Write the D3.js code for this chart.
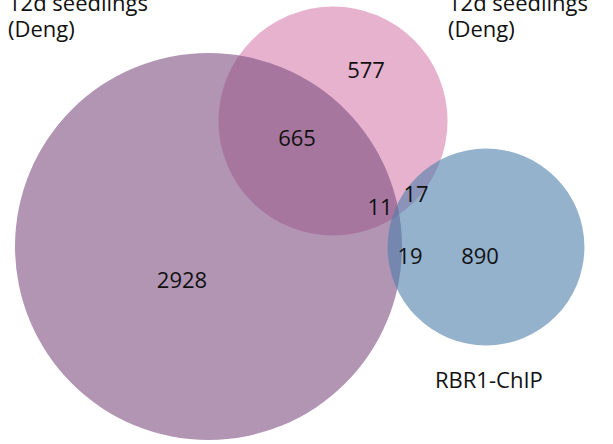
<!DOCTYPE html>
<html><head><meta charset="utf-8">
<script src="https://cdn.jsdelivr.net/npm/d3@7"></script>
<style>
html,body{margin:0;padding:0;background:#fff;}
svg{display:block;}
text{font-family:"Open Sans",sans-serif;fill:#111;}
</style></head><body>
<svg id="c" width="613" height="444"></svg>
<script>
// Data
const setNames = ["12d seedlings (Deng) A", "12d seedlings (Deng) B", "RBR1-ChIP"];
const regionLabels = ["2928", "577", "890", "665", "17", "19", "11"];
const regionValues = [2928, 577, 890, 665, 17, 19, 11];
// region membership: which sets each region belongs to
const regionSets = [[0],[1],[2],[0,1],[1,2],[0,2],[0,1,2]];

// Layout
const W = 613, H = 444;
const svg = d3.select("#c");
const colors = ["#7d4f80", "#d67fae", "#4f7fab"];
const centers = [[208.5, 246.5], [333, 121], [486, 247]];
const labelPos = [[182, 288], [366, 78], [480, 264], [297, 146], [416, 202], [410, 264], [380, 215]];

const totals = setNames.map((_, i) => d3.sum(regionValues.filter((v, k) => regionSets[k].includes(i))));
const r = d3.scaleSqrt().domain([0, d3.max(totals)]).range([0, 193.5]);

const order = [1, 0, 2];
svg.selectAll("circle").data(order).join("circle")
  .attr("cx", i => centers[i][0])
  .attr("cy", i => centers[i][1])
  .attr("r", i => r(totals[i]))
  .attr("fill", i => colors[i])
  .attr("fill-opacity", 0.6);

svg.selectAll("text.num").data(regionLabels).join("text")
  .attr("class", "num")
  .attr("x", (d, i) => labelPos[i][0])
  .attr("y", (d, i) => labelPos[i][1])
  .attr("text-anchor", "middle")
  .attr("font-size", 22)
  .text(d => d);

const titles = [
  {x: 8, lines: ["12d seedlings", "(Deng)"], y: 11},
  {x: 448, lines: ["12d seedlings", "(Deng)"], y: 11},
  {x: 435, lines: ["RBR1-ChIP"], y: 388}
];
titles.forEach(t => {
  const tx = svg.append("text").attr("x", t.x).attr("y", t.y).attr("font-size", 22);
  t.lines.forEach((l, j) => tx.append("tspan").attr("x", t.x).attr("dy", j ? 26 : 0).text(l));
});
</script>
</body></html>
